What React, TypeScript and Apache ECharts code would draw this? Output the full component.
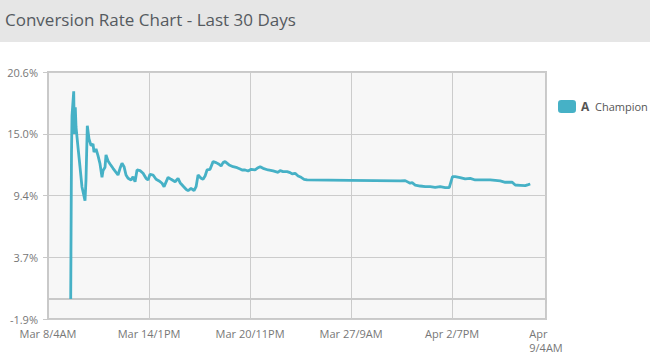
import React, { useEffect, useRef } from "react";
import * as echarts from "echarts";

const titleText = "Conversion Rate Chart - Last 30 Days";
const seriesName = "Champion";
const seriesTag = "A";

// hours since Mar 8 / 4AM
const hours = [
  34.6, 35.8, 36.6, 39.2, 40.1, 41.6, 42.7, 45.7, 48.8, 51.8, 56.4, 57.9, 59.9, 62.5, 65.6, 68.6,
  70.1, 73.2, 76.2, 79.3, 82.3, 83.9, 86.9, 88.4, 91.5, 94.5, 99.1, 106.7, 109.8, 112.8, 115.9,
  118.9, 122, 126.6, 129.6, 132.7, 135.7, 140.3, 144.9, 149.4, 152.5, 155.5, 160.1, 164.7, 169.3,
  173.8, 176.9, 183, 187.6, 193.7, 198.2, 201.3, 205.8, 210.4, 213.5, 218, 222.6, 225.7, 228.7,
  233.3, 236.3, 239.4, 242.4, 247, 251.6, 256.2, 260.7, 263.8, 266.8, 269.9, 276, 282.1, 288.2,
  292.8, 295.8, 300.4, 305, 309.6, 315.6, 320.2, 323.3, 327.8, 335.5, 343.1, 350.7, 353.8, 358.3,
  364.4, 369, 372.1, 376.6, 381.2, 385.8, 390.3, 394.9, 460.5, 536.7, 544.4, 552, 555, 559.6,
  567.2, 574.9, 582.5, 590.1, 597.7, 605.4, 611.5, 616.5, 620.6, 628.2, 635.9, 643.5, 651.1, 674,
  689.2, 696.9, 707.5, 712.1, 719.7, 727.4, 732, 735,
];

// conversion rate, %
const rates = [
  -0.05, 13.16, 16.65, 18.87, 14.98, 17.41, 15.62, 13.79, 11.97, 10.15, 8.9, 10.79, 15.73, 14.52,
  13.91, 14.07, 13.34, 13.61, 13.0, 12.25, 11.03, 11.64, 11.95, 13.07, 12.52, 12.25, 11.85, 11.24,
  11.85, 12.31, 12.0, 11.24, 10.94, 10.79, 11.09, 10.63, 11.7, 11.64, 11.4, 10.94, 10.79, 11.31,
  11.24, 10.85, 10.7, 10.49, 10.18, 11.03, 10.85, 10.63, 10.94, 10.54, 10.24, 9.94, 9.81, 10.03,
  9.81, 10.18, 11.24, 10.94, 10.85, 11.15, 11.7, 11.76, 12.46, 12.37, 12.22, 12.06, 12.37, 12.46,
  12.16, 12.0, 11.91, 11.79, 11.7, 11.7, 11.61, 11.76, 11.7, 11.91, 12.0, 11.85, 11.7, 11.61, 11.49,
  11.64, 11.55, 11.55, 11.46, 11.34, 11.4, 11.15, 11.03, 10.85, 10.79, 10.76, 10.7, 10.73, 10.49,
  10.54, 10.33, 10.24, 10.18, 10.18, 10.12, 10.18, 10.09, 10.09, 11.09, 11.09, 11.0, 10.88, 10.94,
  10.79, 10.79, 10.7, 10.58, 10.58, 10.33, 10.3, 10.27, 10.36, 10.42,
];

const xTickLabels = ["Mar 8/4AM", "Mar 14/1PM", "Mar 20/11PM", "Mar 27/9AM", "Apr 2/7PM", "Apr\n9/4AM"];
const yTickLabels = ["-1.9%", "3.7%", "9.4%", "15.0%", "20.6%"];

const xMin = 0;
const xMax = 759;
const xInterval = 154;
const yMin = -1.875;
const yMax = 20.625;
const yInterval = 5.625;

export default function App() {
  const ref = useRef<HTMLDivElement>(null);
  useEffect(() => {
    if (!ref.current) return;
    const chart = echarts.init(ref.current, null, { renderer: "svg" });
    const data = hours.map((h, i) => [h, rates[i]]);
    chart.setOption({
      animation: false,
      backgroundColor: "#ffffff",
      textStyle: { fontFamily: "Open Sans" },
      graphic: [
        {
          type: "rect",
          left: 0,
          top: 0,
          shape: { width: 650, height: 42 },
          style: { fill: "#e6e6e6" },
          z: -1,
        },
      ],
      title: {
        text: titleText,
        left: 0,
        top: 6,
        textStyle: { fontFamily: "Open Sans", fontSize: 17, fontWeight: "normal", color: "#555a60" },
      },
      legend: {
        left: 553,
        top: 95,
        itemWidth: 18,
        itemHeight: 13,
        icon: "roundRect",
        formatter: () => `{b|${seriesTag}}  ${seriesName}`,
        textStyle: {
          fontFamily: "Open Sans",
          fontSize: 11,
          color: "#555",
          rich: { b: { fontWeight: "bold", fontSize: 12, color: "#555", fontFamily: "Open Sans" } },
        },
        data: [seriesName],
      },
      grid: {
        left: 48,
        right: 104,
        top: 72,
        bottom: 38,
        show: true,
        backgroundColor: "#f7f7f7",
        borderColor: "#c9c9c9",
        borderWidth: 2,
      },
      xAxis: {
        type: "value",
        min: xMin,
        max: xMax,
        interval: xInterval,
        axisLine: { show: true, lineStyle: { color: "#c9c9c9", width: 2 } },
        axisTick: { show: true, length: 5, lineStyle: { color: "#c9c9c9" } },
        splitLine: { show: true, lineStyle: { color: "#cccccc", width: 1 } },
        axisLabel: {
          showMinLabel: true,
          showMaxLabel: true,
          color: "#777",
          fontSize: 11,
          fontFamily: "Open Sans",
          margin: 7,
          lineHeight: 14,
          formatter: (v: number) => {
            const s = xTickLabels[Math.round((v - xMin) / xInterval)] ?? "";
            return s.includes("\n") ? s.split("\n").map((p) => `{l|${p}}`).join("\n") : s;
          },
          rich: { l: { align: "left", fontSize: 11, color: "#777", fontFamily: "Open Sans", lineHeight: 14 } },
        },
      },
      yAxis: {
        type: "value",
        min: yMin,
        max: yMax,
        interval: yInterval,
        axisLine: { show: true, lineStyle: { color: "#c9c9c9", width: 2 } },
        axisTick: { show: true, length: 5, lineStyle: { color: "#c9c9c9" } },
        splitLine: { show: true, lineStyle: { color: "#cccccc", width: 1 } },
        axisLabel: {
          showMinLabel: true,
          showMaxLabel: true,
          color: "#777",
          fontSize: 11,
          fontFamily: "Open Sans",
          margin: 10,
          formatter: (v: number) => yTickLabels[Math.round((v - yMin) / yInterval)] ?? "",
        },
      },
      series: [
        {
          name: seriesName,
          type: "line",
          data,
          showSymbol: false,
          symbol: "none",
          color: "#46b1c6",
          lineStyle: { color: "#46b1c6", width: 2.8 },
        },
      ],
    });
    return () => chart.dispose();
  }, []);
  return (
    <div
      ref={ref}
      style={{ position: "fixed", left: 0, top: 0, width: 650, height: 357 }}
    />
  );
}
